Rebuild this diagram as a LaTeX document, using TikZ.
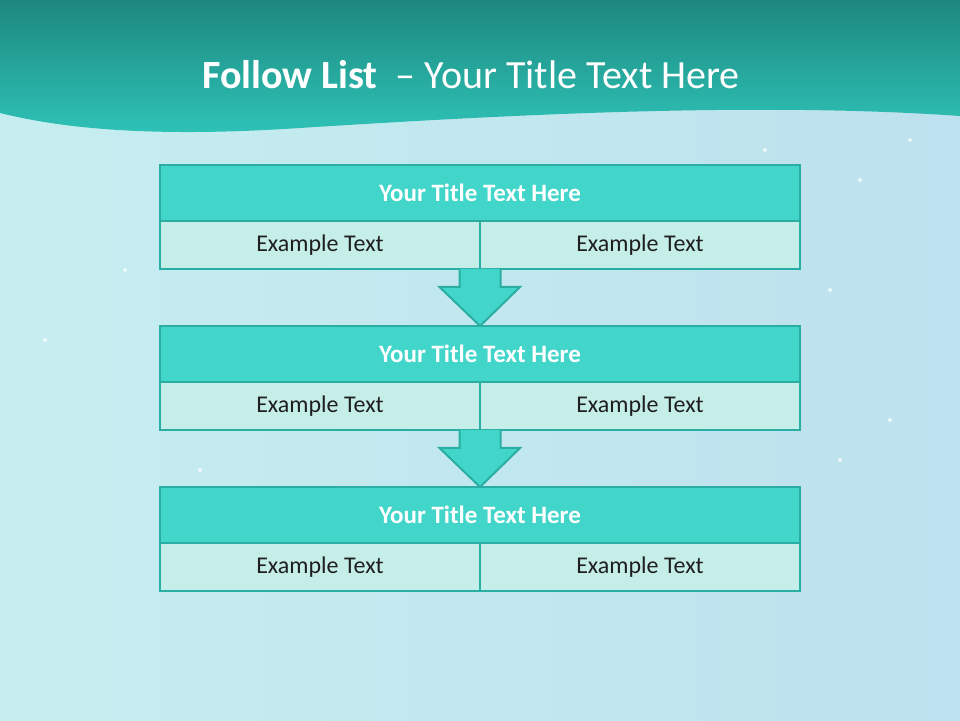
\documentclass[tikz,border=0pt]{standalone}
\usepackage{fontspec}
\setmainfont{Carlito}
\usetikzlibrary{calc}
\definecolor{headdark}{HTML}{1D887E}
\definecolor{headlight}{HTML}{2FC4B9}
\definecolor{titlefill}{HTML}{42D6CA}
\definecolor{cellfill}{HTML}{C6EEE9}
\definecolor{boxline}{HTML}{2AADA2}
\definecolor{bgleft}{HTML}{C6EEF0}
\definecolor{bgright}{HTML}{BDE1EE}

\tikzset{
  titlebox/.style={draw=boxline, fill=titlefill, line width=2.5pt,
    minimum width=640pt, minimum height=56pt, inner sep=0pt, outer sep=0pt,
    text=white, font=\fontsize{25}{30}\selectfont\bfseries},
  cellbox/.style={draw=boxline, fill=cellfill, line width=2.5pt,
    minimum width=320pt, minimum height=48pt, inner sep=0pt, outer sep=0pt,
    text=black!88, font=\fontsize{24}{29}\selectfont},
  downarrow/.style={draw=boxline, fill=titlefill, line width=2pt, line join=miter},
  sparkle/.style={fill=white, opacity=0.7}
}

\begin{document}
\begin{tikzpicture}[x=1pt, y=1pt]

  \useasboundingbox (0,0) rectangle (960,720);

  % background
  \shade[left color=bgleft, right color=bgright] (0,0) rectangle (960,720);
  \foreach \px/\py in {765/570, 830/430, 910/580, 890/300, 125/450, 600/610,
                       700/620, 860/540, 45/380, 200/250, 840/260, 510/640}
    \fill[sparkle] (\px,\py) circle (2pt);

  % header band with wavy lower edge
  \shade[top color=headdark, bottom color=headlight]
    (0,720) -- (960,720) -- (960,604)
    .. controls (760,618) and (520,606) .. (300,592)
    .. controls (150,582) and (60,592) .. (0,607) -- cycle;

  \node[text=white, font=\fontsize{40}{48}\selectfont] (head) at (471,645)
    {\textbf{Follow List}\ \ – Your Title Text Here};

  % the three rows
  \foreach \i/\ty in {1/527, 2/366, 3/205} {
    \node[titlebox] (t\i) at (480,\ty) {Your Title Text Here};
    \node[cellbox] (l\i) at (320,\ty-52) {Example Text};
    \node[cellbox] (r\i) at (640,\ty-52) {Example Text};
  }

  % block arrows between the rows
  \foreach \i/\j in {1/2, 2/3}
    \filldraw[downarrow] ($(l\i.south east)+(-20.5,0)$) -- ++(0,-18) -- ++(-20,0)
      -- (t\j.north) -- ++(40,39) -- ++(-19.5,0) -- ++(0,18);

\end{tikzpicture}
\end{document}
